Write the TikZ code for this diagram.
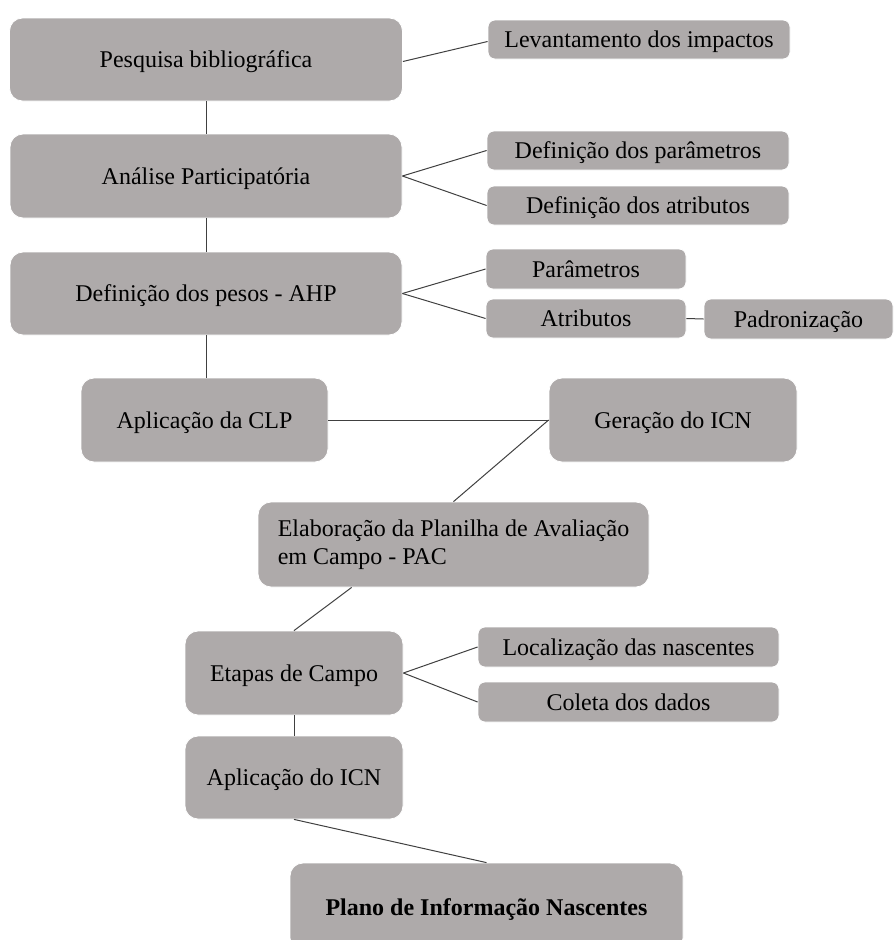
\documentclass[tikz,border=0pt]{standalone}
\usepackage{fontspec}
\setmainfont{Liberation Serif}
\usetikzlibrary{calc}
\definecolor{boxgray}{HTML}{AEAAAA}
\definecolor{linegray}{HTML}{404040}
\tikzset{
  basebox/.style={fill=boxgray, draw=white, line width=0.8pt, inner sep=0pt,
    font=\fontsize{24}{28}\selectfont, text=black},
  oneline/.style={text height=20pt, text depth=4pt},
  bigbox/.style={basebox, rounded corners=13pt},
  smallbox/.style={basebox, oneline, rounded corners=7pt},
  conn/.style={draw=linegray, line width=1pt}
}
\begin{document}
\begin{tikzpicture}[x=1pt,y=-1pt]
\useasboundingbox (0,0) rectangle (894,940);
\clip (0,0) rectangle (894,940);
% main column
\node[bigbox, oneline, minimum width=393pt, minimum height=83pt] (pb) at (206,59.5) {Pesquisa bibliográfica};
\node[bigbox, oneline, minimum width=392pt, minimum height=84pt] (ap) at (206,176) {Análise Participatória};
\node[bigbox, oneline, minimum width=392pt, minimum height=83pt] (ahp) at (206,293.5) {Definição dos pesos - AHP};
\node[bigbox, oneline, minimum width=247pt, minimum height=84pt] (clp) at (204.5,420) {Aplicação da CLP};
\node[bigbox, oneline, minimum width=248pt, minimum height=84pt] (ger) at (673,420) {Geração do ICN};
\node[bigbox, minimum width=391pt, minimum height=85pt, align=left] (ela) at (453.5,544.5) {Elaboração da Planilha de Avaliação\\em Campo - PAC};
\node[bigbox, oneline, minimum width=218pt, minimum height=84pt] (eta) at (294,673) {Etapas de Campo};
\node[bigbox, oneline, minimum width=218pt, minimum height=83pt] (icn) at (294,777.5) {Aplicação do ICN};
\node[bigbox, oneline, minimum width=393pt, minimum height=88pt, font=\fontsize{24}{28}\selectfont\bfseries] (pla) at (486.5,907) {Plano de Informação Nascentes};
% side boxes
\node[smallbox, minimum width=302pt, minimum height=39pt] (lev) at (639,39.5) {Levantamento dos impactos};
\node[smallbox, minimum width=302pt, minimum height=39pt] (dpar) at (638,150.5) {Definição dos parâmetros};
\node[smallbox, minimum width=302pt, minimum height=39pt] (datr) at (638,205.5) {Definição dos atributos};
\node[smallbox, minimum width=200pt, minimum height=40pt] (par) at (586,269) {Parâmetros};
\node[smallbox, minimum width=200pt, minimum height=39pt] (atr) at (586,318.5) {Atributos};
\node[smallbox, minimum width=189pt, minimum height=40pt] (pad) at (798.5,319) {Padronização};
\node[smallbox, minimum width=301pt, minimum height=40pt] (loc) at (628.5,647) {Localização das nascentes};
\node[smallbox, minimum width=301pt, minimum height=40pt] (col) at (628.5,702) {Coleta dos dados};
% connectors
\draw[conn] (pb.south) -- (ap.north);
\draw[conn] (ap.south) -- (ahp.north);
\draw[conn] (ahp.south) -- (ahp.south |- clp.north);
\draw[conn] ([yshift=-2pt]pb.east) -- ([yshift=-2pt]lev.west);
\draw[conn] (ap.east) -- (dpar.west);
\draw[conn] (ap.east) -- (datr.west);
\draw[conn] (ahp.east) -- (par.west);
\draw[conn] (ahp.east) -- (atr.west);
\draw[conn] (atr.east) -- (pad.west);
\draw[conn] (clp.east) -- (ger.west);
\draw[conn] (ger.west) -- (ela.north);
\draw[conn] ($(ela.south west)!0.24!(ela.south east)$) -- (eta.north);
\draw[conn] (eta.east) -- (loc.west);
\draw[conn] (eta.east) -- (col.west);
\draw[conn] (eta.south) -- (icn.north);
\draw[conn] (icn.south) -- (pla.north);
\end{tikzpicture}
\end{document}
